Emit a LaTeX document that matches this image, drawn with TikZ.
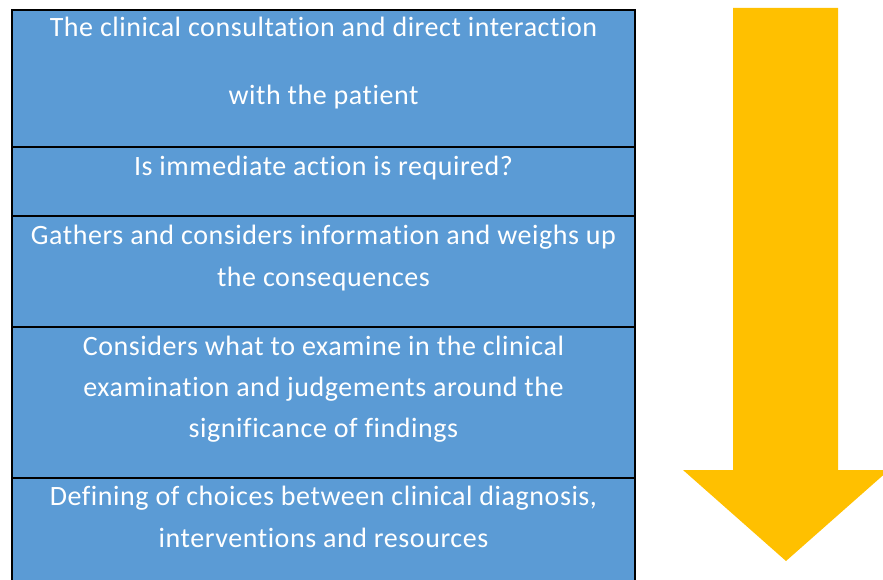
\documentclass[tikz,border=0pt]{standalone}
\usepackage{fontspec}
\setmainfont[Ligatures={NoCommon},LetterSpace=2]{Carlito}
\definecolor{rowblue}{HTML}{5B9BD5}
\definecolor{arrowyellow}{HTML}{FFC000}
\begin{document}
\begin{tikzpicture}[x=1pt,y=-1pt,
  rowbox/.style={fill=rowblue,draw=black,line width=2pt},
  line/.style={anchor=base,text=white,font=\fontsize{28}{30}\selectfont,inner sep=0pt}]
\useasboundingbox (0,0) rectangle (883,580);
\clip (0,0) rectangle (883,580);
\fill[white] (0,0) rectangle (883,580);
% rows
\draw[rowbox] (12,10) rectangle (635,147);
\draw[rowbox] (12,147) rectangle (635,216);
\draw[rowbox] (12,216) rectangle (635,327);
\draw[rowbox] (12,327) rectangle (635,478);
\draw[rowbox] (12,478) rectangle (635,600);
% text
\node[line] (t1a) at (323.5,37) {The clinical consultation and direct interaction};
\node[line] (t1b) at (323.5,105) {with the patient};
\node[line] (t2a) at (323.5,176) {Is immediate action is required?};
\node[line] (t3a) at (323.5,244) {Gathers and considers information and weighs up};
\node[line] (t3b) at (323.5,286) {the consequences};
\node[line] (t4a) at (323.5,355) {Considers what to examine in the clinical};
\node[line] (t4b) at (323.5,396) {examination and judgements around the};
\node[line] (t4c) at (323.5,437) {significance of findings};
\node[line] (t5a) at (323.5,505) {Defining of choices between clinical diagnosis,};
\node[line] (t5b) at (323.5,547) {interventions and resources};
% arrow
\fill[arrowyellow] (733,8) -- (838,8) -- (838,470) -- (889,470) -- (786,561) -- (683,470) -- (733,470) -- cycle;
\end{tikzpicture}
\end{document}
